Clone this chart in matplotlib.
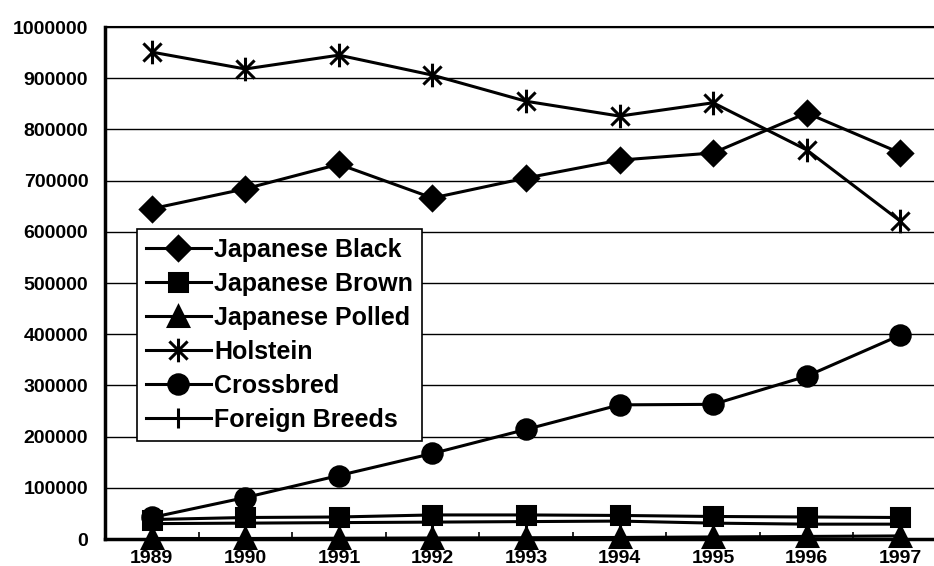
import matplotlib.pyplot as plt
from matplotlib.path import Path
from matplotlib.ticker import MultipleLocator, FixedLocator, StrMethodFormatter

plt.rcParams['font.family'] = ['Liberation Sans', 'DejaVu Sans']
plt.rcParams['font.weight'] = 'bold'

years = ['1989', '1990', '1991', '1992', '1993', '1994', '1995', '1996', '1997']

japanese_black = [645000, 684000, 732000, 666000, 705000, 740000, 754000, 832000, 754000]
japanese_brown = [38000, 42000, 43000, 47000, 47000, 46000, 44000, 43000, 42000]
japanese_polled = [1000, 1000, 1500, 2000, 2500, 3000, 4000, 5000, 6000]
holstein = [951000, 918000, 945000, 906000, 855000, 826000, 852000, 760000, 621000]
crossbred = [42000, 81000, 124000, 167000, 214000, 262000, 263000, 318000, 398000]
foreign_breeds = [30000, 31000, 32000, 33000, 34000, 35000, 31000, 29000, 29000]

# asterisk: an X with a vertical bar through it
asterisk = Path([(-1, -1), (1, 1), (-1, 1), (1, -1), (0, -1.3), (0, 1.3)],
                [Path.MOVETO, Path.LINETO, Path.MOVETO, Path.LINETO, Path.MOVETO, Path.LINETO])

series = [
    ('Japanese Black', japanese_black, 'D', 12),
    ('Japanese Brown', japanese_brown, 's', 13),
    ('Japanese Polled', japanese_polled, '^', 14),
    ('Holstein', holstein, asterisk, 17),
    ('Crossbred', crossbred, 'o', 14),
    ('Foreign Breeds', foreign_breeds, '|', 14),
]

fig = plt.figure(figsize=(9.34, 5.66), dpi=100)
ax = fig.add_axes([105 / 934, 1 - 539 / 566, 842 / 934, 512 / 566])

x = list(range(len(years)))
for label, values, marker, ms in series:
    ax.plot(x, values, color='black', linewidth=2.2, marker=marker, markersize=ms,
            markeredgewidth=2.2, markerfacecolor='black', markeredgecolor='black',
            label=label, clip_on=False, zorder=3)

ax.set_xlim(-0.5, len(years) - 0.5)
ax.set_ylim(0, 1000000)
ax.yaxis.set_major_locator(MultipleLocator(100000))
ax.yaxis.set_major_formatter(StrMethodFormatter('{x:.0f}'))
ax.yaxis.grid(True, color='black', linewidth=1.0)
ax.set_axisbelow(True)

ax.set_xticks(x)
ax.set_xticklabels(years)
ax.xaxis.set_minor_locator(FixedLocator([i + 0.5 for i in x[:-1]]))
ax.tick_params(axis='x', which='major', length=0, pad=8, labelsize=14)
ax.tick_params(axis='x', which='minor', direction='in', length=5, width=1.2)
ax.tick_params(axis='y', length=0, pad=12, labelsize=14)

for side in ['left', 'bottom']:
    ax.spines[side].set_linewidth(2.5)
ax.spines['top'].set_linewidth(1.5)

leg = ax.legend(loc='upper left', bbox_to_anchor=(0.038, 0.605), fontsize=18,
                frameon=True, fancybox=False, edgecolor='black', framealpha=1,
                handlelength=2.6, handletextpad=0.15, labelspacing=0.4,
                borderpad=0.35, borderaxespad=0)
leg.get_frame().set_linewidth(1.2)

plt.savefig('out.png', dpi=100)
plt.close(fig)
